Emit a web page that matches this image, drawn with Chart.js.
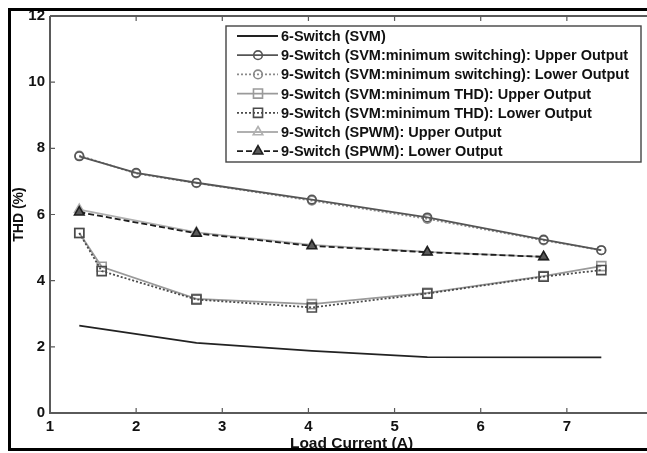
<!DOCTYPE html>
<html lang="en">
<head>
<meta charset="UTF-8">
<title>THD vs Load Current</title>
<script src="https://cdn.jsdelivr.net/npm/chart.js"></script>
<style>
    html, body { margin: 0; padding: 0; background: #fff; overflow: hidden; width: 647px; height: 453px; }
    #wrap { position: relative; width: 647px; height: 453px; overflow: hidden; }
    #plot { position: absolute; left: 0; top: 0; }
    #frame { position: absolute; left: 8px; top: 8px; width: 700px; height: 437px; border: 3px solid #000; pointer-events: none; }
</style>
</head>
<body>
<div id="wrap">
    <canvas id="plot" width="680" height="453"></canvas>
    <div id="frame"></div>
</div>
<script>
// x positions (load current, A)
const loadCurrent = [1.34, 2.0, 2.7, 4.04, 5.38, 6.73, 7.4];
const loadCurrentThd = [1.34, 1.6, 2.7, 4.04, 5.38, 6.73, 7.4];
const loadCurrentSpwm = [1.34, 2.7, 4.04, 5.38, 6.73];
const loadCurrent6 = [1.34, 2.7, 4.04, 5.38, 7.4];

// THD values (%)
const thd6Switch = [2.64, 2.12, 1.88, 1.69, 1.68];
const minSwUpper = [7.76, 7.26, 6.96, 6.45, 5.91, 5.24, 4.92];
const minSwLower = [7.78, 7.24, 6.95, 6.42, 5.87, 5.22, 4.92];
const minThdUpper = [5.44, 4.42, 3.45, 3.29, 3.63, 4.14, 4.44];
const minThdLower = [5.44, 4.29, 3.43, 3.19, 3.61, 4.12, 4.32];
const spwmUpper = [6.15, 5.46, 5.08, 4.87, 4.72];
const spwmLower = [6.07, 5.43, 5.05, 4.86, 4.72];

const seriesLabels = [
    '6-Switch (SVM)',
    '9-Switch (SVM:minimum switching): Upper Output',
    '9-Switch (SVM:minimum switching): Lower Output',
    '9-Switch (SVM:minimum THD): Upper Output',
    '9-Switch (SVM:minimum THD): Lower Output',
    '9-Switch (SPWM): Upper Output',
    '9-Switch (SPWM): Lower Output'
];

const xTicks = [1, 2, 3, 4, 5, 6, 7];

const pts = (xs, ys) => xs.map((x, i) => ({ x, y: ys[i] }));

function series(label, xs, ys, color, dash, style, radius, fill, order) {
    return {
        label,
        data: pts(xs, ys),
        order: order || 0,
        borderColor: color,
        borderWidth: 1.8,
        borderDash: dash,
        tension: 0,
        fill: false,
        pointStyle: style || 'circle',
        pointRadius: style ? radius : 0,
        pointBorderColor: color,
        pointBorderWidth: 1.6,
        pointBackgroundColor: fill || 'rgba(255,255,255,0)'
    };
}

const datasets = [
    series(seriesLabels[0], loadCurrent6, thd6Switch, '#222', [], null, 0),
    series(seriesLabels[1], loadCurrent, minSwUpper, '#555', [], 'circle', 4.3),
    series(seriesLabels[2], loadCurrent, minSwLower, '#8a8a8a', [2, 2], 'circle', 4.3),
    series(seriesLabels[3], loadCurrentThd, minThdUpper, '#9a9a9a', [], 'rect', 6.4, null, 1),
    series(seriesLabels[4], loadCurrentThd, minThdLower, '#4a4a4a', [2, 2], 'rect', 6.4, null, -1),
    series(seriesLabels[5], loadCurrentSpwm, spwmUpper, '#b0b0b0', [], 'triangle', 5.5, null, 1),
    series(seriesLabels[6], loadCurrentSpwm, spwmLower, '#1e1e1e', [6, 3], 'triangle', 5.5, '#5a5a5a', -1)
];

function marker(ctx, style, r, x, y, color, fill) {
    ctx.save();
    ctx.strokeStyle = color;
    ctx.fillStyle = fill;
    ctx.lineWidth = 1.6;
    ctx.setLineDash([]);
    ctx.beginPath();
    if (style === 'circle') {
        ctx.arc(x, y, r, 0, Math.PI * 2);
    } else if (style === 'rect') {
        const s = r / Math.SQRT2;
        ctx.rect(x - s, y - s, 2 * s, 2 * s);
    } else if (style === 'triangle') {
        ctx.moveTo(x, y - r);
        ctx.lineTo(x + r * Math.sin(Math.PI / 3), y + r / 2);
        ctx.lineTo(x - r * Math.sin(Math.PI / 3), y + r / 2);
        ctx.closePath();
    }
    ctx.fill();
    ctx.stroke();
    ctx.restore();
}

// MATLAB style box: axis lines with inward ticks
const axesBox = {
    id: 'axesBox',
    beforeDatasetsDraw(chart) {
        const { ctx, chartArea: a, scales: { x, y } } = chart;
        ctx.save();
        ctx.strokeStyle = '#5a5a5a';
        ctx.lineWidth = 2;
        ctx.beginPath();
        ctx.moveTo(a.left, a.top); ctx.lineTo(a.right, a.top);
        ctx.moveTo(a.left, a.top); ctx.lineTo(a.left, a.bottom);
        ctx.lineTo(a.right, a.bottom);
        ctx.stroke();
        ctx.lineWidth = 1.2;
        ctx.beginPath();
        x.ticks.forEach(t => {
            const px = x.getPixelForValue(t.value);
            ctx.moveTo(px, a.bottom); ctx.lineTo(px, a.bottom - 5);
            ctx.moveTo(px, a.top); ctx.lineTo(px, a.top + 5);
        });
        y.ticks.forEach(t => {
            const py = y.getPixelForValue(t.value);
            ctx.moveTo(a.left, py); ctx.lineTo(a.left + 5, py);
        });
        ctx.stroke();
        ctx.restore();
    }
};

// boxed legend in the upper right, line sample with marker in the middle
const boxLegend = {
    id: 'boxLegend',
    afterDraw(chart) {
        const { ctx } = chart;
        const left = 226, top = 26, right = 641, bottom = 162;
        ctx.save();
        ctx.fillStyle = '#fff';
        ctx.fillRect(left, top, right - left, bottom - top);
        ctx.strokeStyle = '#444';
        ctx.lineWidth = 1.4;
        ctx.strokeRect(left, top, right - left, bottom - top);
        ctx.font = 'bold 14.5px "Liberation Sans", Arial, sans-serif';
        ctx.textBaseline = 'middle';
        chart.data.datasets.forEach((ds, i) => {
            const yy = 36 + 19.2 * i;
            ctx.strokeStyle = ds.borderColor;
            ctx.lineWidth = ds.borderWidth;
            ctx.setLineDash(ds.borderDash);
            ctx.beginPath();
            ctx.moveTo(237, yy); ctx.lineTo(278, yy);
            ctx.stroke();
            ctx.setLineDash([]);
            if (ds.pointRadius > 0) {
                marker(ctx, ds.pointStyle, ds.pointRadius, 258, yy, ds.pointBorderColor, ds.pointBackgroundColor);
            }
            ctx.fillStyle = '#111';
            ctx.fillText(ds.label, 281, yy + 1);
        });
        ctx.restore();
    }
};

const tickFont = { family: '"Liberation Sans", Arial, sans-serif', size: 15, weight: 'bold' };

new Chart(document.getElementById('plot').getContext('2d'), {
    type: 'line',
    data: { datasets },
    options: {
        responsive: false,
        animation: false,
        layout: { padding: { top: 16, right: 27, left: 0, bottom: 0 } },
        plugins: { legend: { display: false }, tooltip: { enabled: false } },
        scales: {
            x: {
                type: 'linear',
                min: 1,
                max: 8,
                afterBuildTicks: s => { s.ticks = xTicks.concat([8]).map(v => ({ value: v })); },
                ticks: {
                    padding: 5,
                    color: '#111',
                    font: tickFont,
                    maxRotation: 0,
                    callback: v => (xTicks.includes(v) ? String(v) : '')
                },
                grid: { display: false, drawTicks: false },
                border: { display: false },
                title: {
                    display: true,
                    text: 'Load Current (A)',
                    color: '#111',
                    font: { family: '"Liberation Sans", Arial, sans-serif', size: 15.5, weight: 'bold' },
                    padding: { top: 0, bottom: 0 }
                },
                afterFit: s => { s.height = 40; }
            },
            y: {
                min: 0,
                max: 12,
                ticks: { stepSize: 2, padding: 5, color: '#111', font: tickFont },
                grid: { display: false, drawTicks: false },
                border: { display: false },
                title: {
                    display: true,
                    text: 'THD (%)',
                    color: '#111',
                    font: { family: '"Liberation Sans", Arial, sans-serif', size: 14, weight: 'bold' },
                    padding: { top: 11, bottom: 0 }
                },
                afterFit: s => { s.width = 50; }
            }
        }
    },
    plugins: [axesBox, boxLegend]
});
</script>
</body>
</html>
